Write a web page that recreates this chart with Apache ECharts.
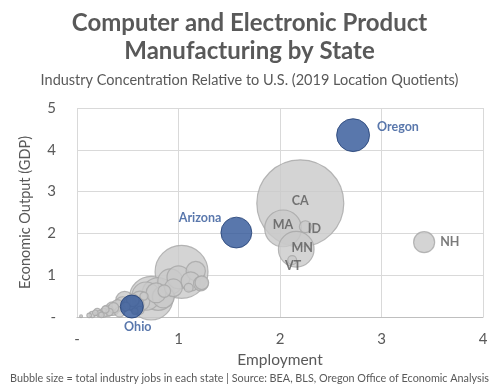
<!DOCTYPE html>
<html>
<head>
<meta charset="utf-8">
<script src="https://cdn.jsdelivr.net/npm/echarts@6/dist/echarts.min.js"></script>
<style>
  html, body { margin: 0; padding: 0; background: #fff; }
  #chart { width: 499px; height: 391px; }
</style>
</head>
<body>
<div id="chart"></div>
<script>
// Location quotients by state: employment (x), GDP (y), industry jobs in thousands (bubble size)
const highlightStates = ['Oregon', 'Arizona', 'Ohio'];
const highlightEmp    = [2.72, 1.57, 0.54];
const highlightGdp    = [4.35, 2.02, 0.25];
const highlightJobs   = [41, 36, 20];

const otherStates = ['CA', 'TX', 'NY', 'MA', 'MN', 'FL', 'IL', 'PA', 'NH', 'WI', 'NC', 'CO', 'NJ', 'IN', 'MI', 'VA', 'UT', 'GA', 'MD', 'NM', 'ID', 'CT', 'KS', 'SC', 'AL', 'NE', 'VT', 'WA', 'KY', 'MO', 'IA', 'TN', 'OK', 'RI', 'AR', 'LA', 'NV', 'ME', 'WV', 'MS', 'SD', 'DE', 'MT', 'ND', 'WY', 'HI'];
const otherEmp = [2.20, 1.03, 0.73, 2.03, 2.16, 0.80, 0.68, 0.92, 3.42, 0.62, 1.00, 1.17, 0.85, 1.12, 0.47, 0.58, 1.22, 0.45, 0.95, 0.86, 2.25, 1.23, 0.40, 0.52, 0.35, 0.30, 2.12, 0.78, 0.42, 0.36, 0.55, 0.26, 1.10, 0.66, 0.48, 0.20, 0.62, 0.32, 0.22, 0.28, 0.15, 0.57, 0.18, 0.24, 0.12, 0.04];
const otherGdp = [2.72, 1.08, 0.45, 2.12, 1.62, 0.55, 0.50, 0.85, 1.79, 0.38, 0.95, 1.10, 0.48, 0.85, 0.40, 0.30, 0.80, 0.30, 0.70, 0.62, 2.16, 0.82, 0.28, 0.32, 0.20, 0.15, 1.36, 0.58, 0.12, 0.22, 0.40, 0.10, 0.70, 0.50, 0.25, 0.12, 0.16, 0.12, 0.08, 0.18, 0.06, 0.14, 0.10, 0.05, 0.04, 0.02];
const otherJobs = [286, 106, 72, 51, 48, 40, 30, 24, 16.7, 15, 20, 14, 18, 14, 12, 10, 8, 9, 12, 6, 5.4, 7, 5, 6, 7, 5, 3, 15, 4, 4, 6, 3, 3, 2.5, 3, 2, 2.5, 2, 1.5, 2, 1.5, 1.5, 1.2, 1.2, 0.8, 0.3];

// Per-state label placement for the labelled grey bubbles
const labelPlacement = {
  CA: { position: 'inside', offset: [0, -2] },
  MA: { position: 'inside', offset: [0, -3] },
  ID: { position: 'inside', offset: [9, 2] },
  MN: { position: 'inside', offset: [6, -1] },
  VT: { position: 'inside', offset: [1, 6] },
  NH: { position: 'right', distance: 5, offset: [0, 0] }
};
const highlightPlacement = {
  Oregon:  { position: 'right', distance: 7, offset: [0, -8] },
  Arizona: { position: 'left', distance: 0, offset: [1, -15] },
  Ohio:    { position: 'bottom', distance: 2, offset: [6, 0] }
};

const SIZE_K = 87 / Math.sqrt(286);
const sizeOf = v => SIZE_K * Math.sqrt(v[2]);
const FONT = 'Lato, "Open Sans", sans-serif';

// Grey bubbles, largest first so smaller ones sit on top
const greyData = otherStates.map((s, i) => {
  const item = { name: s, value: [otherEmp[i], otherGdp[i], otherJobs[i]] };
  const p = labelPlacement[s];
  if (p) {
    item.label = Object.assign({ show: true, formatter: s }, p);
  }
  return item;
}).sort((a, b) => b.value[2] - a.value[2]);

const blueData = highlightStates.map((s, i) => ({
  name: s,
  value: [highlightEmp[i], highlightGdp[i], highlightJobs[i]],
  label: Object.assign({ show: true, formatter: s }, highlightPlacement[s])
}));

const chart = echarts.init(document.getElementById('chart'), null, { renderer: 'canvas' });
chart.setOption({
  animation: false,
  backgroundColor: '#ffffff',
  title: [{
    text: 'Computer and Electronic Product\nManufacturing by State',
    left: 'center',
    top: 4,
    textStyle: { fontFamily: FONT, fontSize: 24, fontWeight: 'bold', color: '#595959', lineHeight: 28 }
  }, {
    text: 'Industry Concentration Relative to U.S. (2019 Location Quotients)',
    left: 'center',
    top: 68,
    textStyle: { fontFamily: FONT, fontSize: 14.5, fontWeight: 'normal', color: '#595959' }
  }],
  grid: { left: 77, right: 16, top: 108, bottom: 74 },
  xAxis: {
    type: 'value', min: 0, max: 4, interval: 1,
    name: 'Employment', nameLocation: 'middle', nameGap: 33,
    nameTextStyle: { fontFamily: FONT, fontSize: 15.5, color: '#595959' },
    axisLine: { show: true, lineStyle: { color: '#BFBFBF', width: 1 } },
    axisTick: { show: false },
    axisLabel: { fontFamily: FONT, fontSize: 15, color: '#595959', margin: 15, formatter: v => v === 0 ? '-' : String(v) },
    splitLine: { show: true, lineStyle: { color: '#D9D9D9', width: 1 } }
  },
  yAxis: {
    type: 'value', min: 0, max: 5, interval: 1,
    name: 'Economic Output (GDP)', nameLocation: 'middle', nameGap: 44,
    nameTextStyle: { fontFamily: FONT, fontSize: 14.5, color: '#595959' },
    axisLine: { show: false },
    axisTick: { show: false },
    axisLabel: { fontFamily: FONT, fontSize: 15, color: '#595959', margin: 21, formatter: v => v === 0 ? '-' : String(v) },
    splitLine: { show: true, lineStyle: { color: '#D9D9D9', width: 1 } }
  },
  series: [{
    type: 'scatter',
    name: 'Other states',
    symbolSize: sizeOf,
    itemStyle: { color: '#C9C9C9', borderColor: '#A6A6A6', borderWidth: 1.2 },
    label: { show: false, fontFamily: FONT, fontSize: 12.5, fontWeight: 'bold', color: '#595959' },
    data: greyData,
    z: 2
  }, {
    type: 'scatter',
    name: 'Highlighted states',
    symbolSize: sizeOf,
    itemStyle: { color: '#2F5597', borderColor: '#223F73', borderWidth: 1 },
    label: { show: true, fontFamily: FONT, fontSize: 12.5, fontWeight: 'bold', color: '#2F5597' },
    data: blueData,
    z: 3
  }],
  graphic: [{
    type: 'text',
    left: 'center',
    top: 373,
    style: {
      text: 'Bubble size = total industry jobs in each state | Source: BEA, BLS, Oregon Office of Economic Analysis',
      font: '10.8px ' + FONT,
      fill: '#595959'
    }
  }]
});
</script>
</body>
</html>
